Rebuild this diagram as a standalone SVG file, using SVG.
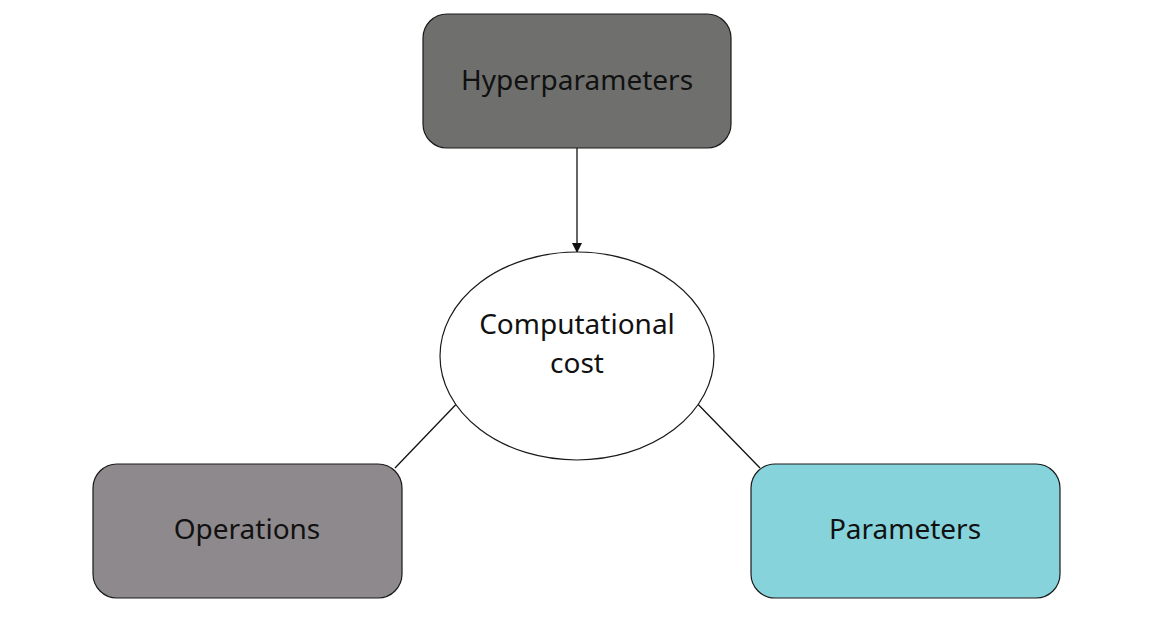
<svg xmlns="http://www.w3.org/2000/svg" width="1152" height="618" viewBox="0 0 1152 618">
<defs>
<style>
.box{stroke:#1a1a1a;stroke-width:1.2}
.t{font-family:"Noto Sans","Liberation Sans",sans-serif;font-size:28px;fill:#111;text-anchor:middle;dominant-baseline:central}
.c{stroke:#111;stroke-width:1.3;fill:none;marker-end:url(#a)}
</style>
<marker id="a" markerWidth="10" markerHeight="10" refX="9" refY="5" orient="auto" markerUnits="userSpaceOnUse"><path d="M0,0 L10,5 L0,10 z" fill="#111"/></marker>
</defs>
<rect width="1152" height="618" fill="#fff"/>
<g id="connectors">
<line class="c" x1="577" y1="148" x2="577" y2="252"/>
<line class="c" x1="395" y1="468" x2="466" y2="394"/>
<line class="c" x1="760" y1="468" x2="688" y2="394"/>
</g>
<g id="hyperparameters"><rect class="box" x="423" y="14" width="308" height="134" rx="24" fill="#6f706e"/><text class="t" x="577" y="79">Hyperparameters</text></g>
<g id="cost"><ellipse class="box" cx="577" cy="356" rx="137" ry="104" fill="#fff"/><text class="t" x="577" y="323">Computational</text><text class="t" x="577" y="362">cost</text></g>
<g id="operations"><rect class="box" x="93" y="464" width="309" height="134" rx="24" fill="#8d898c"/><text class="t" x="247" y="528">Operations</text></g>
<g id="parameters"><rect class="box" x="751" y="464" width="309" height="134" rx="24" fill="#86d3dc"/><text class="t" x="905" y="528">Parameters</text></g>
</svg>
